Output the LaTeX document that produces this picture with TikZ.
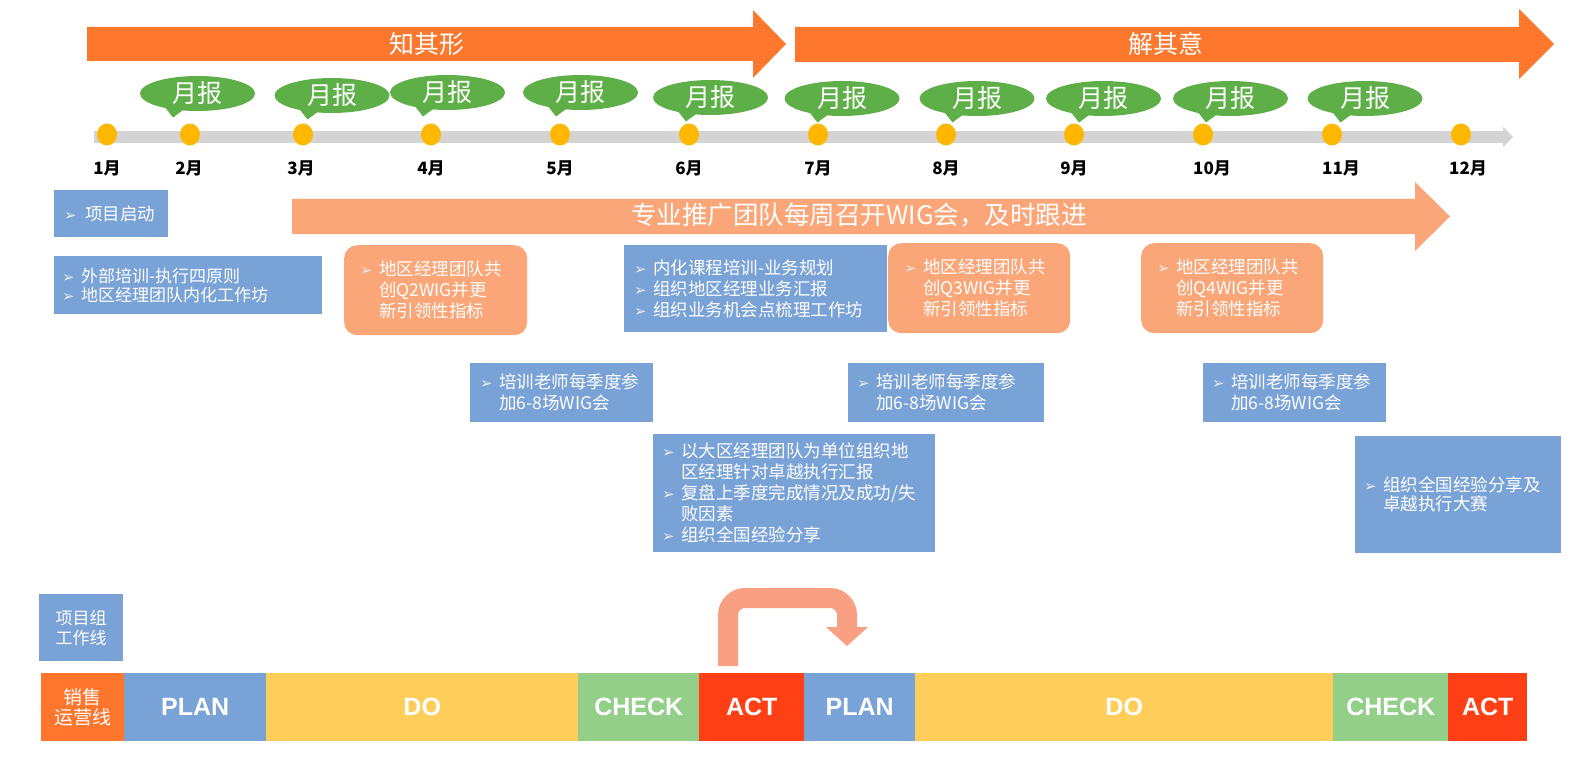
\documentclass[tikz,border=0pt]{standalone}
\usepackage{fontspec}
\usepackage{graphicx}
\setmainfont{Noto Sans CJK SC}
\newfontfamily\dvf{DejaVu Sans}
\newfontfamily\arl{Liberation Sans}
\usetikzlibrary{shapes.geometric,calc}

\definecolor{corange}{RGB}{253,119,45}
\definecolor{csalmon}{RGB}{250,166,120}
\definecolor{cblue}{RGB}{121,162,215}
\definecolor{cgreen}{RGB}{94,175,72}
\definecolor{cdot}{RGB}{255,183,0}
\definecolor{cbar}{RGB}{212,212,212}
\definecolor{csale}{RGB}{255,117,44}
\definecolor{cdo}{RGB}{255,206,90}
\definecolor{ccheck}{RGB}{147,207,137}
\definecolor{cact}{RGB}{255,64,22}
\definecolor{ccurve}{RGB}{250,160,130}
\definecolor{cbul}{RGB}{235,235,235}

\newcommand\bul{\makebox[19pt][l]{\color{cbul}\dvf\fontsize{15}{15}\selectfont ➢}}
\newcommand\ind{\hspace*{19pt}}

\newcommand\mkbox[8]{%
  \pgfmathsetmacro\mkbw{#5-#3}%
  \pgfmathsetmacro\mkbh{#6-#4}%
  \pgfmathsetmacro\mktw{#5-#3-2*#7}%
  \node[#2, anchor=north west, minimum width=\mkbw pt, minimum height=\mkbh pt,
        text width=\mktw pt, inner xsep=#7 pt, inner ysep=0pt, align=left] (#1) at (#3,#4) {#8};}

\tikzset{
  bluebox/.style={fill=cblue, text=white, font=\fontsize{17.5}{21}\selectfont},
  orangebox/.style={fill=csalmon, rounded corners=13pt, text=white, font=\fontsize{17.5}{21}\selectfont},
  bubble/.style={ellipse, fill=cgreen, minimum width=115pt, minimum height=35pt, inner sep=0pt,
                 text=white, font=\fontsize{25}{25}\selectfont},
  tdot/.style={ellipse, fill=cdot, minimum width=20pt, minimum height=22pt, inner sep=0pt},
  month/.style={text=black, font=\bfseries\fontsize{17}{17}\selectfont, inner sep=0pt},
  bigtext/.style={text=white, font=\fontsize{25}{25}\selectfont, inner sep=0pt},
  seg/.style={anchor=north west, minimum height=68pt, inner sep=0pt, text=white,
              font=\arl\bfseries\fontsize{25}{25}\selectfont},
}

\begin{document}
\begin{tikzpicture}[x=1pt,y=-1pt]
\useasboundingbox (0,0) rectangle (1576,762);

% top phase arrows
\fill[corange] (87,27) -- (753,27) -- (753,10) -- (786,44) -- (753,78) -- (753,61) -- (87,61) -- cycle;
\node[bigtext] (p1) at (427,44) {知其形};
\fill[corange] (795,27) -- (1519,27) -- (1519,9) -- (1554,44) -- (1519,79) -- (1519,62) -- (795,62) -- cycle;
\node[bigtext] (p2) at (1166,44) {解其意};

% timeline bar
\fill[cbar] (94,131) rectangle (1503,143);
\fill[cbar] (1503,127) -- (1513,137) -- (1503,147) -- cycle;

% dots and month labels
\foreach \i/\x/\lx in {1/107/107,2/190/189,3/303/301,4/431/431,5/560/560,6/689/689,
                       7/818/818,8/946/946,9/1074/1074,10/1203/1212,11/1332/1341,12/1461/1468}{
  \node[tdot] (d\i) at (\x,134.5) {};
  \node[month] (m\i) at (\lx,168) {\i 月};
}

% speech bubbles
\foreach \i/\x/\y in {1/197.5/93.5,2/332/95.5,3/447.5/92.5,4/580.5/92.5,5/710.5/97.5,
                      6/842/98.5,7/977/98.5,8/1103.5/98.5,9/1230.5/98.5,10/1365/98.5}{
  \fill[cgreen] (\x-37,\y+8) -- (\x-24.5,\y+24) -- (\x-11,\y+14) -- cycle;
  \node[bubble] (b\i) at (\x,\y) {月报};
}

% weekly WIG arrow
\fill[csalmon] (292,199) -- (1415,199) -- (1415,182) -- (1450,216.5) -- (1415,251) -- (1415,234) -- (292,234) -- cycle;
\node[bigtext, font=\fontsize{25.5}{25.5}\selectfont] (wig) at (859,215) {专业推广团队每周召开WIG会，及时跟进};

% boxes
\mkbox{k1}{bluebox}{54}{190}{168}{237}{10}{\bul\hspace{2pt}项目启动}
\mkbox{k2}{bluebox,font=\fontsize{17}{19}\selectfont}{54}{256}{322}{314}{8}{\bul 外部培训-执行四原则\\\bul 地区经理团队内化工作坊}
\mkbox{q2}{orangebox}{344}{245}{527}{335}{16}{\bul 地区经理团队共\\\ind 创Q2WIG并更\\\ind 新引领性指标}
\mkbox{k3}{bluebox}{624}{245}{887}{332}{10}{\bul 内化课程培训-业务规划\\\bul 组织地区经理业务汇报\\\bul 组织业务机会点梳理工作坊}
\mkbox{q3}{orangebox}{888}{243}{1070}{333}{16}{\bul 地区经理团队共\\\ind 创Q3WIG并更\\\ind 新引领性指标}
\mkbox{q4}{orangebox}{1141}{243}{1323}{333}{16}{\bul 地区经理团队共\\\ind 创Q4WIG并更\\\ind 新引领性指标}
\mkbox{t1}{bluebox}{470}{363}{653}{422}{10}{\bul 培训老师每季度参\\\ind 加6-8场WIG会}
\mkbox{t2}{bluebox}{848}{363}{1044}{422}{9}{\bul 培训老师每季度参\\\ind 加6-8场WIG会}
\mkbox{t3}{bluebox}{1203}{363}{1386}{422}{9}{\bul 培训老师每季度参\\\ind 加6-8场WIG会}
\mkbox{k4}{bluebox}{653}{434}{935}{552}{9}{\bul 以大区经理团队为单位组织地\\\ind 区经理针对卓越执行汇报\\\bul 复盘上季度完成情况及成功/失\\\ind 败因素\\\bul 组织全国经验分享}
\mkbox{k5}{bluebox,font=\fontsize{17.5}{19}\selectfont}{1355}{436}{1561}{553}{9}{\bul 组织全国经验分享及\\\ind 卓越执行大赛}

% bottom lanes
\node[fill=cblue, text=white, anchor=north west, minimum width=84pt, minimum height=67pt, inner sep=0pt,
      align=center, font=\fontsize{17}{20}\selectfont] (pg) at (39,594) {项目组\\工作线};

\node[seg, fill=csale, minimum width=83pt, align=center, font=\fontsize{19}{20}\selectfont] (s0) at (41,673) {销售\\运营线};
\node[seg, fill=cblue, minimum width=142pt] (s1) at (124,673) {PLAN};
\node[seg, fill=cdo, minimum width=312pt] (s2) at (266,673) {DO};
\node[seg, fill=ccheck, minimum width=121pt] (s3) at (578,673) {CHECK};
\node[seg, fill=cact, minimum width=105pt] (s4) at (699,673) {ACT};
\node[seg, fill=cblue, minimum width=111pt] (s5) at (804,673) {PLAN};
\node[seg, fill=cdo, minimum width=418pt] (s6) at (915,673) {DO};
\node[seg, fill=ccheck, minimum width=115pt] (s7) at (1333,673) {CHECK};
\node[seg, fill=cact, minimum width=79pt] (s8) at (1448,673) {ACT};

% curved arrow from ACT to next PLAN
\coordinate (ca0) at (728,666);
\coordinate (ca1) at (728,598);
\coordinate (ca2) at (847,598);
\coordinate (ca3) at (847,628);
\draw[ccurve, line width=20pt, rounded corners=17pt] (ca0) -- (ca1) -- (ca2) -- (ca3);
\fill[ccurve] (826,627) -- (868,627) -- (847,646) -- cycle;
\end{tikzpicture}
\end{document}
